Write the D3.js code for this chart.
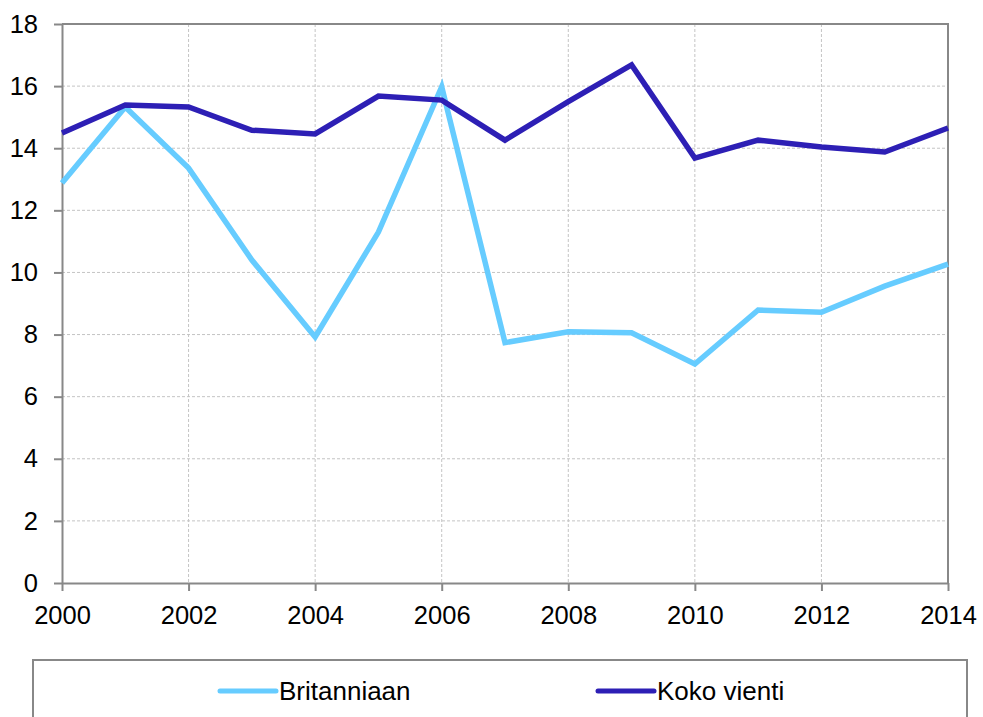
<!DOCTYPE html>
<html>
<head>
<meta charset="utf-8">
<script src="https://cdn.jsdelivr.net/npm/d3@7"></script>
<style>
  body { margin: 0; background: #fff; }
  svg { display: block; font-family: "Liberation Sans", Arial, sans-serif; }
  .grid line { stroke: #c4c4c4; stroke-dasharray: 3,2; stroke-width: 1; }
  .axis path, .axis line { stroke: #888; stroke-width: 2; }
  .axis text { fill: #000; font-size: 25.5px; }
</style>
</head>
<body>
<svg id="chart"></svg>
<script>
// data
let years = [2000, 2001, 2002, 2003, 2004, 2005, 2006, 2007, 2008, 2009, 2010, 2011, 2012, 2013, 2014];
let britanniaan = [12.88, 15.33, 13.36, 10.4, 7.92, 11.3, 15.98, 7.74, 8.09, 8.06, 7.05, 8.79, 8.72, 9.56, 10.27];
let kokoVienti = [14.49, 15.39, 15.33, 14.58, 14.46, 15.68, 15.55, 14.26, 15.5, 16.68, 13.68, 14.26, 14.04, 13.88, 14.65];
let seriesNames = ["Britanniaan", "Koko vienti"];
let seriesColors = ["#66ccff", "#2d1fb5"];
let xTicks = [2000, 2002, 2004, 2006, 2008, 2010, 2012, 2014];
let yTicks = [0, 2, 4, 6, 8, 10, 12, 14, 16, 18];

let totalWidth = 983;
let totalHeight = 717;
let margin = {top: 24, left: 62, right: 35, bottom: 134};
let width = totalWidth - margin.left - margin.right;
let height = totalHeight - margin.top - margin.bottom;

let svg = d3.select("#chart")
  .attr("width", totalWidth)
  .attr("height", totalHeight);

let g = svg.append("g")
  .attr("transform", `translate(${margin.left},${margin.top})`);

let x = d3.scaleLinear().domain([2000, 2014]).range([0, width]);
let y = d3.scaleLinear().domain([0, 18]).range([height, 0]);

// gridlines
g.append("g").attr("class", "grid")
  .selectAll("line")
  .data(yTicks.slice(1, -1))
  .enter().append("line")
  .attr("x1", 0).attr("x2", width)
  .attr("y1", d => y(d)).attr("y2", d => y(d));

g.append("g").attr("class", "grid")
  .selectAll("line")
  .data(xTicks.slice(1, -1))
  .enter().append("line")
  .attr("y1", 0).attr("y2", height)
  .attr("x1", d => x(d)).attr("x2", d => x(d));

// plot border (top + right)
g.append("path")
  .attr("d", `M0,0H${width}V${height}`)
  .attr("fill", "none")
  .attr("stroke", "#888")
  .attr("stroke-width", 2);

// axes
g.append("g").attr("class", "axis")
  .attr("transform", `translate(0,${height})`)
  .call(d3.axisBottom(x).tickValues(xTicks).tickFormat(d3.format("d")).tickSizeOuter(0).tickSizeInner(8).tickPadding(15));

g.append("g").attr("class", "axis")
  .call(d3.axisLeft(y).tickValues(yTicks).tickSizeOuter(0).tickSizeInner(8).tickPadding(16));

// lines
let lineGen = d3.line()
  .x((d, i) => x(years[i]))
  .y(d => y(d));

[britanniaan, kokoVienti].forEach(function(values, i){
  g.append("path")
    .datum(values)
    .attr("fill", "none")
    .attr("stroke", seriesColors[i])
    .attr("stroke-width", 5.5)
    .attr("stroke-linejoin", "miter")
    .attr("d", lineGen);
});

// legend
let legend = svg.append("g");
legend.append("rect")
  .attr("x", 33).attr("y", 660)
  .attr("width", 934).attr("height", 80)
  .attr("fill", "#fff")
  .attr("stroke", "#888")
  .attr("stroke-width", 2);

let legendX = [220, 598];
seriesNames.forEach(function(name, i){
  legend.append("line")
    .attr("x1", legendX[i]).attr("x2", legendX[i] + 56)
    .attr("y1", 691).attr("y2", 691)
    .attr("stroke", seriesColors[i])
    .attr("stroke-width", 5)
    .attr("stroke-linecap", "round");
  legend.append("text")
    .attr("x", legendX[i] + 59).attr("y", 691)
    .attr("dy", "0.35em")
    .attr("font-size", "26px")
    .text(name);
});
</script>
</body>
</html>
